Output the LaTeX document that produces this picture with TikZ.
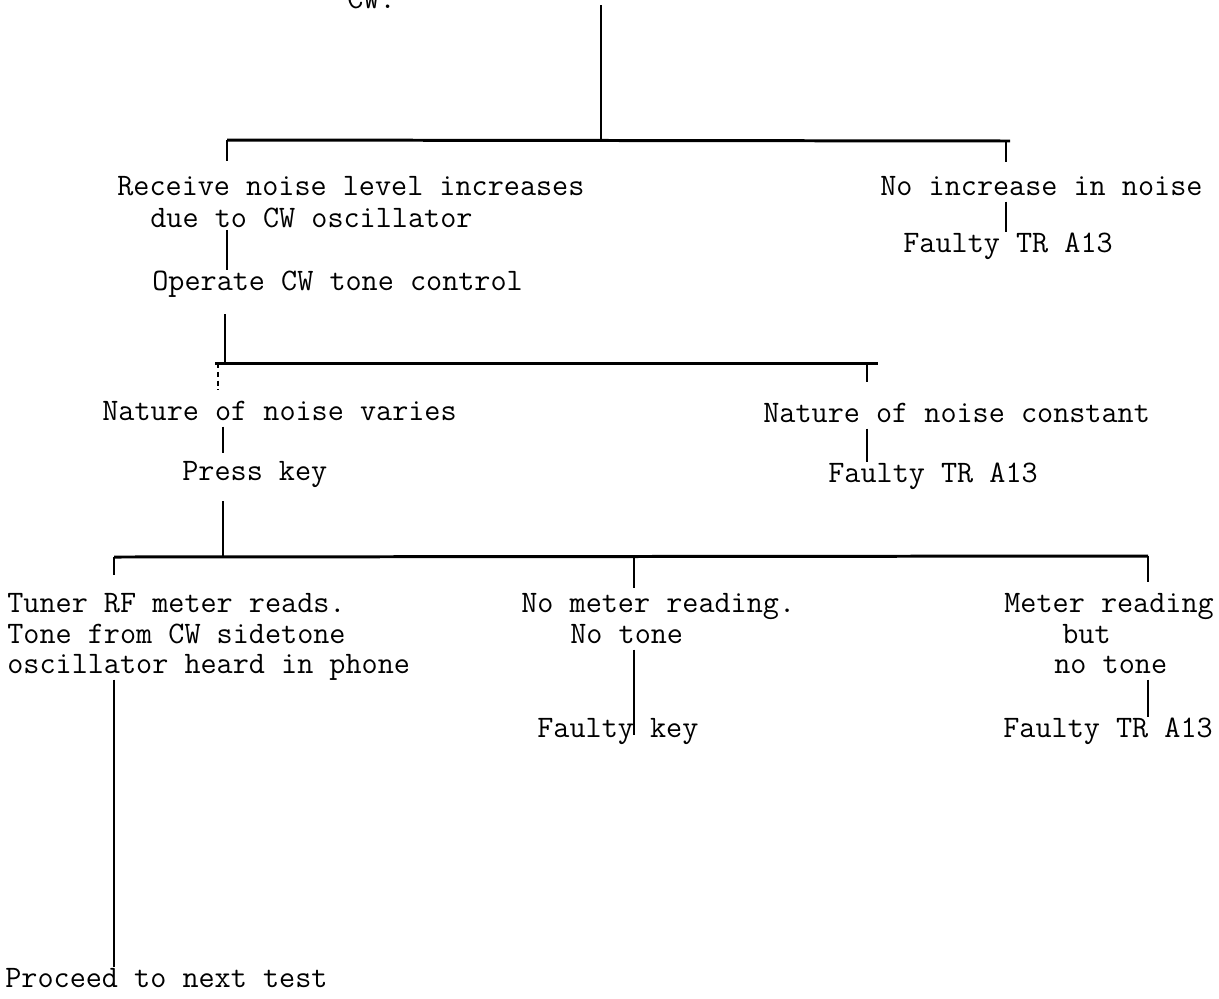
\documentclass[tikz,border=0pt]{standalone}
\usepackage{fontspec}
\usepackage{tikz}
\newcommand{\typew}{\ttfamily\fontsize{17.8}{20}\selectfont}

\begin{document}
\begin{tikzpicture}[x=0.02cm, y=-0.02cm,
    txt/.style={anchor=base west, inner sep=0pt, text height=11pt, text depth=3.5pt, font=\typew},
    bar/.style={line width=1.7pt},
    tick/.style={line width=0.75pt}]
    \useasboundingbox (0,0) rectangle (1219,998);
    % texts
    \node[txt] (cw) at (347,8) {CW.};
    \node[txt] (recv) at (117,195) {Receive noise level increases};
    \node[txt] (recvb) at (150,227) {due to CW oscillator};
    \node[txt] (oper) at (152,290) {Operate CW tone control};
    \node[txt] (noinc) at (880,195) {No increase in noise};
    \node[txt] (trA) at (903,252) {Faulty TR A13};
    \node[txt] (natv) at (102,420) {Nature of noise varies};
    \node[txt] (press) at (182,480) {Press key};
    \node[txt] (natc) at (763,422) {Nature of noise constant};
    \node[txt] (trB) at (828,482) {Faulty TR A13};
    \node[txt] (tuner) at (7,612) {Tuner RF meter reads.};
    \node[txt] (tone) at (7,643) {Tone from CW sidetone};
    \node[txt] (osc) at (7,673) {oscillator heard in phone};
    \node[txt] (proc) at (5,987) {Proceed to next test};
    \node[txt] (nomet) at (521,612) {No meter reading.};
    \node[txt] (notone) at (570,643) {No tone};
    \node[txt] (fkey) at (537,737) {Faulty key};
    \node[txt] (meter) at (1004,612) {Meter reading};
    \node[txt] (but) at (1062,643) {but};
    \node[txt] (notoneb) at (1054,673) {no tone};
    \node[txt] (trC) at (1003,737) {Faulty TR A13};

    % first split
    \coordinate (top) at (601,5);
    \coordinate (j1) at (601,140);
    \coordinate (b1w) at (227,140);
    \coordinate (b1e) at (1010,141);
    \coordinate (t1e) at (1006,141);
    \draw[line width=1pt] (top) -- (j1);
    \draw[bar] (b1w) -- (b1e);
    \draw[tick, shorten >=8.4pt] (b1w) -- (b1w |- recv.north);
    \draw[tick, shorten >=7.8pt] (t1e) -- (t1e |- noinc.north);
    \draw[tick, shorten <=-2pt] (recvb.south -| b1w) -- (oper.north -| b1w);
    \draw[tick] (noinc.south -| t1e) -- (trA.north -| t1e);

    % second split
    \coordinate (j2) at (225,363);
    \coordinate (b2w) at (215,363);
    \coordinate (b2e) at (878,363);
    \coordinate (t2w) at (218,363);
    \coordinate (t2e) at (867,363);
    \draw[tick, shorten <=10pt] (oper.south -| j2) -- (j2);
    \draw[bar] (b2w) -- (b2e);
    \draw[tick, densely dashed, shorten >=6pt] (t2w) -- (t2w |- natv.north);
    \draw[tick, shorten >=11.5pt] (t2e) -- (t2e |- natc.north);
    \draw[tick] (natc.south -| t2e) -- (trB.north -| t2e);

    % third split
    \coordinate (j3) at (223,557);
    \coordinate (b3w) at (114,557);
    \coordinate (b3e) at (1148,556);
    \coordinate (t3m) at (634,557);
    \draw[tick, shorten >=4.4pt] (natv.south -| j3) -- (press.north -| j3);
    \draw[tick, shorten <=8.5pt] (press.south -| j3) -- (j3);
    \draw[bar] (b3w) -- (b3e);
    \draw[tick, shorten >=10pt] (b3w) -- (b3w |- tuner.north);
    \draw[tick, shorten >=2.7pt] (t3m) -- (t3m |- nomet.north);
    \draw[tick, shorten >=6pt] (b3e) -- (b3e |- meter.north);
    \draw[tick] (osc.south -| b3w) -- (proc.north -| b3w);
    \draw[tick, shorten >=-10pt] (notone.south -| t3m) -- (fkey.north -| t3m);
    \draw[tick] (notoneb.south -| b3e) -- (trC.north -| b3e);
\end{tikzpicture}
\end{document}
